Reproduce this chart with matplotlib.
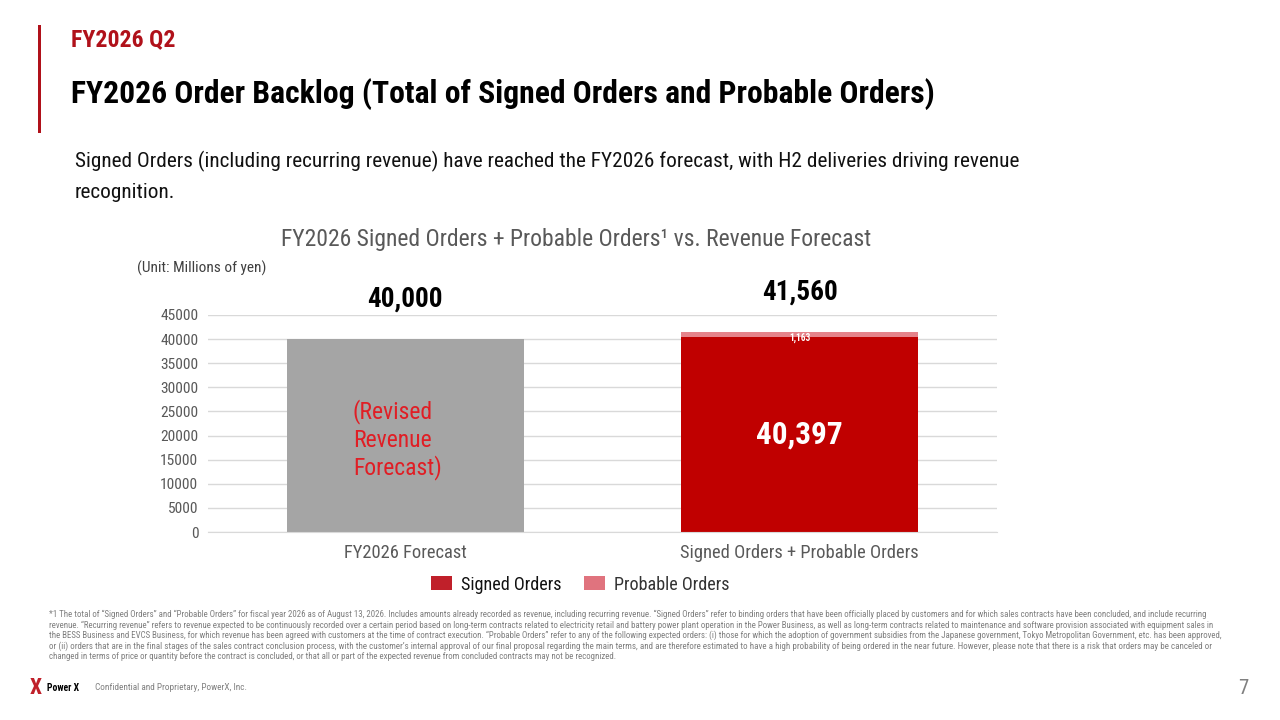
import matplotlib
matplotlib.use('Agg')
import matplotlib.pyplot as plt
import matplotlib.font_manager as fm
from matplotlib.patches import Rectangle

# ---------------- data ----------------
categories = ['FY2026 Forecast', 'Signed Orders + Probable Orders']
forecast_vals = [40000, 0]
signed_vals = [0, 40397]
probable_vals = [0, 1163]
yticks = [0, 5000, 10000, 15000, 20000, 25000, 30000, 35000, 40000, 45000]
legend_labels = ['Signed Orders', 'Probable Orders']

header_tag = 'FY2026 Q2'
title = 'FY2026 Order Backlog (Total of Signed Orders and Probable Orders)'
subtitle_lines = ['Signed Orders (including recurring revenue) have reached the FY2026 forecast, with H2 deliveries driving revenue',
                  'recognition.']
chart_title = 'FY2026 Signed Orders + Probable Orders\u00b9 vs. Revenue Forecast'
unit_text = '(Unit: Millions of yen)'
forecast_note = ['(Revised', 'Revenue', 'Forecast)']
footnote_lines = [
    '*1 The total of \u201cSigned Orders\u201d and \u201cProbable Orders\u201d for fiscal year 2026 as of August 13, 2026. Includes amounts already recorded as revenue, including recurring revenue. \u201cSigned Orders\u201d refer to binding orders that have been officially placed by customers and for which sales contracts have been concluded, and include recurring',
    'revenue. \u201cRecurring revenue\u201d refers to revenue expected to be continuously recorded over a certain period based on long-term contracts related to electricity retail and battery power plant operation in the Power Business, as well as long-term contracts related to maintenance and software provision associated with equipment sales in',
    'the BESS Business and EVCS Business, for which revenue has been agreed with customers at the time of contract execution. \u201cProbable Orders\u201d refer to any of the following expected orders: (i) those for which the adoption of government subsidies from the Japanese government, Tokyo Metropolitan Government, etc. has been approved,',
    'or (ii) orders that are in the final stages of the sales contract conclusion process, with the customer\u2019s internal approval of our final proposal regarding the main terms, and are therefore estimated to have a high probability of being ordered in the near future. However, please note that there is a risk that orders may be canceled or',
    'changed in terms of price or quantity before the contract is concluded, or that all or part of the expected revenue from concluded contracts may not be recognized.',
]
footer_text = 'Confidential and Proprietary, PowerX, Inc.'
page_no = '7'

# ---------------- fonts ----------------
_names = {f.name for f in fm.fontManager.ttflist}
FONT = 'DejaVu Sans'
_cands = ['Roboto Condensed', 'Liberation Sans Narrow', 'Open Sans Condensed',
          'Noto Sans Condensed', 'DejaVu Sans Condensed']
_found = [c for c in _cands if c in _names]
if not _found:
    _found = sorted(n for n in _names if ('Condensed' in n or 'Narrow' in n))
if _found:
    FONT = _found[0]
else:
    for c in ['Roboto', 'Liberation Sans', 'DejaVu Sans']:
        if c in _names:
            FONT = c
            break
FAM = [FONT, 'DejaVu Sans']
plt.rcParams['font.family'] = FAM

RED = '#C00000'
PINK = '#E5838A'
GRAY_BAR = '#A5A5A5'
DARK_RED = '#B0111A'
TXT_GRAY = '#595959'
GRID = '#D9D9D9'

W, H = 1280, 720
fig = plt.figure(figsize=(12.8, 7.2), dpi=100)
fig.patch.set_facecolor('white')
renderer = fig.canvas.get_renderer()


def fit_size(s, size, target_w, **kw):
    t = fig.text(0, 0, s, fontsize=size, family=FAM, **kw)
    w = t.get_window_extent(renderer).width
    t.remove()
    return size * target_w / w if w > 0 else size


def put(x, y, s, size, target_w=None, ha='left', va='center', **kw):
    if target_w:
        size = fit_size(s, size, target_w, **{k: v for k, v in kw.items() if k in ('weight',)})
    t = fig.text(x / W, 1 - y / H, s, fontsize=size, ha=ha, va=va, family=FAM, **kw)
    return t, size


# ---------------- header ----------------
fig.add_artist(Rectangle((38 / W, 1 - 133 / H), 3 / W, 108 / H, transform=fig.transFigure,
                         color=DARK_RED, lw=0))
put(71, 40, header_tag, 18, target_w=104, color=DARK_RED, weight='bold')
put(71, 94, title, 24, target_w=867, color='black', weight='bold')
_, sub_size = put(75, 161, subtitle_lines[0], 17, target_w=945, color='#111111')
put(75, 193, subtitle_lines[1], sub_size, color='#111111')

put(576, 240, chart_title, 18, target_w=591, ha='center', color=TXT_GRAY)
put(137, 268, unit_text, 12, target_w=130, color='#404040')

# ---------------- chart ----------------
ax = fig.add_axes([208 / W, 1 - 532 / H, 789 / W, 217 / H])
x = list(range(len(categories)))
bw = 0.6
ax.bar(x, forecast_vals, bw, color=GRAY_BAR, zorder=2)
b_signed = ax.bar(x, signed_vals, bw, color=RED, zorder=2, label=legend_labels[0])
b_prob = ax.bar(x, probable_vals, bw, bottom=signed_vals, color=PINK, zorder=2, label=legend_labels[1])

ax.set_xlim(-0.5, len(categories) - 0.5)
ax.set_ylim(0, 45000)
ax.set_yticks(yticks)
ax.set_yticklabels([str(v) for v in yticks])
ax.set_xticks(x)
ax.set_xticklabels(categories)
ax.grid(axis='y', color=GRID, lw=1, zorder=0)
ax.set_axisbelow(True)
for sp in ['top', 'right', 'left']:
    ax.spines[sp].set_visible(False)
ax.spines['bottom'].set_color(GRID)
tick_size = fit_size('45000', 13, 38)
xl_size = fit_size(categories[0], 15, 124)
ax.tick_params(axis='y', length=0, pad=7, labelsize=tick_size, labelcolor=TXT_GRAY)
ax.tick_params(axis='x', length=0, pad=9, labelsize=xl_size, labelcolor=TXT_GRAY)

# totals above bars
totals = [f + s + p for f, s, p in zip(forecast_vals, signed_vals, probable_vals)]
tot_size = fit_size('40,000', 23, 76, weight='bold')
for xi, tot in zip(x, totals):
    ax.annotate(f'{tot:,}', (xi, tot), xytext=(0, 28.5), textcoords='offset points',
                ha='center', va='center', fontsize=tot_size, weight='bold', color='black')

# inside labels
in_size = fit_size('40,397', 26, 87, weight='bold')
small_size = fit_size('1,163', 7, 22, weight='bold')
for xi, s, p in zip(x, signed_vals, probable_vals):
    if s > 0:
        ax.text(xi, s / 2, f'{s:,}', ha='center', va='center', fontsize=in_size,
                weight='bold', color='white', zorder=3)
    if p > 0:
        ax.annotate(f'{p:,}', (xi, s + p / 2), xytext=(0.5, -2.2), textcoords='offset points',
                    ha='center', va='center', fontsize=small_size,
                    weight='bold', color='white', zorder=3)

# note in forecast bar
note_size = fit_size(forecast_note[2], 17, 89)
for i, line in enumerate(forecast_note):
    put(353, 412 + i * 28, line, note_size, color='#E01E25')

# legend
leg_size = fit_size(legend_labels[0], 15, 101)
leg_px = leg_size * 100 / 72
leg = fig.legend(handles=[b_signed, b_prob], labels=legend_labels, loc='center',
                 bbox_to_anchor=(580 / W, 1 - 584.5 / H), ncol=2, frameon=False,
                 fontsize=leg_size, handlelength=21.5 / leg_px, handleheight=15 / leg_px,
                 handletextpad=9 / leg_px, columnspacing=22 / leg_px)
leg.legend_handles[0].set_facecolor('#C0202A')
leg.legend_handles[1].set_facecolor('#E0737E')
leg.get_texts()[0].set_color('#111111')
leg.get_texts()[1].set_color('#333333')

# ---------------- footnote ----------------
fn_ys = [614.5, 625, 635.5, 646, 656.5]
fn_targets = [1155, 1159, 1170, 1156, None]
sizes = []
for yy, line, tw in zip(fn_ys, footnote_lines, fn_targets):
    if tw:
        _, s = put(49, yy, line, 6, target_w=tw, color='#7F7F7F')
        sizes.append(s)
    else:
        put(49, yy, line, sum(sizes) / len(sizes), color='#7F7F7F')

# ---------------- footer ----------------
put(30, 688, 'X', 11, target_w=12, color='#C0202A', weight='bold')
put(47, 688, 'Power X', 10, target_w=32, color='black', weight='bold')
put(95, 688, footer_text, 7.5, target_w=151, color='#808080')
put(1243, 688, page_no, 15, ha='center', color='#808080')

fig.savefig('out.png', dpi=100, facecolor='white')
